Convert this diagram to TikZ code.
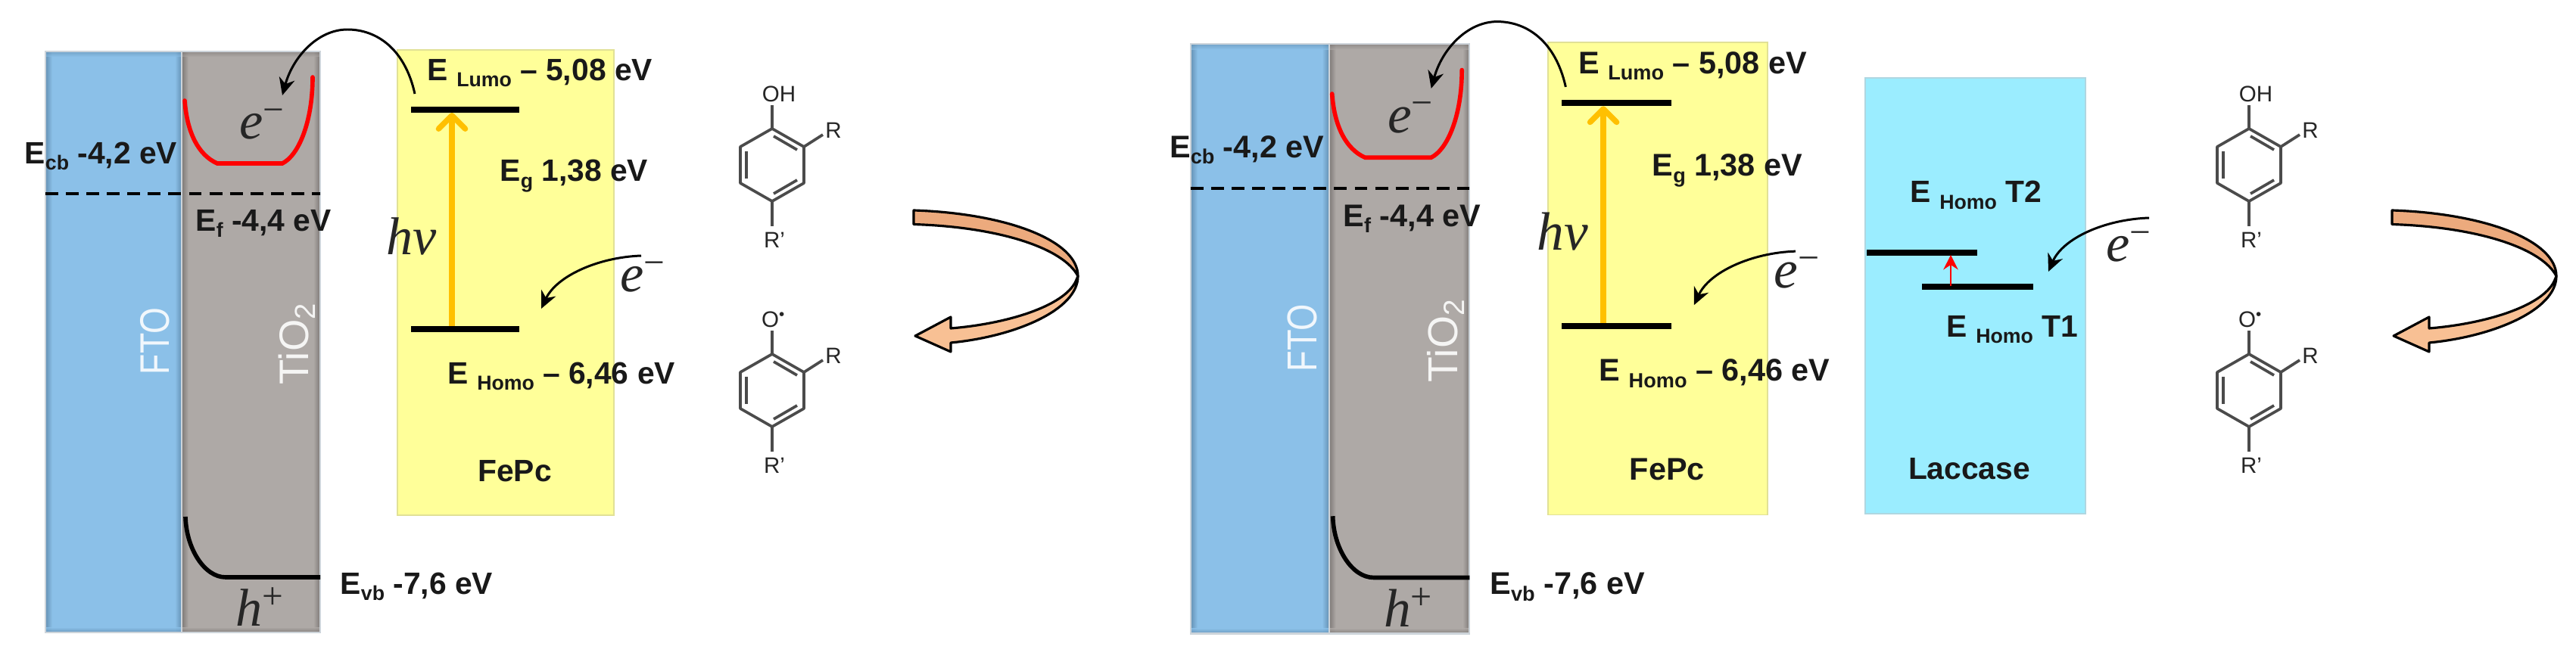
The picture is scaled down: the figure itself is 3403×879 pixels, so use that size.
\documentclass[tikz,border=0pt]{standalone}
\usepackage{graphicx}
\usepackage{fontspec}
\setmainfont{Liberation Sans}
\newfontfamily\sciserif{Liberation Serif}
\usetikzlibrary{arrows.meta}
\definecolor{ftoblue}{RGB}{139,192,232}
\definecolor{ftodark}{RGB}{100,145,180}
\definecolor{tiogray}{RGB}{174,169,166}
\definecolor{tiodark}{RGB}{125,120,118}
\definecolor{edgegray}{RGB}{205,212,218}
\definecolor{fepcyellow}{RGB}{255,255,153}
\definecolor{fepcedge}{RGB}{225,225,150}
\definecolor{laccblue}{RGB}{155,237,255}
\definecolor{laccedge}{RGB}{175,215,225}
\definecolor{hvorange}{RGB}{255,192,0}
\definecolor{ribbontop}{RGB}{236,170,125}
\definecolor{ribbonlow}{RGB}{248,192,148}
\definecolor{molink}{RGB}{75,75,75}
\newcommand{\lowtxt}[1]{\raisebox{-2.4pt}{\fontsize{7.6}{8}\selectfont #1}}
\newcommand{\supchg}[1]{\raisebox{6.5pt}{\fontsize{14}{14}\selectfont\upshape #1}}
\newcommand{\glowbox}[6]{%
  \fill[#5] (#1,#2) rectangle (#3,#4);
  \shade[left color=#6,right color=#5] (#1,#2) rectangle (#1+9,#4);
  \shade[left color=#5,right color=#6] (#3-9,#2) rectangle (#3,#4);
  \shade[top color=#6,bottom color=#5,opacity=.6] (#1,#2) rectangle (#3,#2+7);
  \shade[top color=#5,bottom color=#6,opacity=.8] (#1,#4-7) rectangle (#3,#4);
  \draw[edgegray,line width=.6pt] (#1,#2) rectangle (#3,#4);
}
\tikzset{
  x=0.01cm,y=-0.01cm,
  lab/.style={font=\bfseries\fontsize{11.6}{13}\selectfont,anchor=base west,inner sep=0pt,text=black!90},
  labc/.style={font=\bfseries\fontsize{11.6}{13}\selectfont,anchor=base,inner sep=0pt,text=black!90},
  mathlab/.style={font=\sciserif\itshape\fontsize{20}{22}\selectfont,inner sep=0pt,text=black!85},
  vert/.style={font=\fontsize{15.5}{17}\selectfont,rotate=90,inner sep=0pt},
  bar/.style={line width=2.3pt,black},
  band/.style={line width=1.6pt},
  ecurve/.style={line width=.85pt,black,-{Stealth[length=6.5pt,width=6pt]}},
  ribbon/.style={draw=black,line width=.9pt,line join=round},
  bond/.style={molink,line width=1.05pt},
  moltxt/.style={font=\fontsize{8.4}{9}\selectfont,text=black!85,inner sep=0pt},
  panel/.pic={
    \glowbox{60}{68}{240}{836}{ftoblue}{ftodark}
    \glowbox{240}{68}{423}{836}{tiogray}{tiodark}
    \fill[fepcyellow] (525,66) rectangle (811,681);
    \draw[fepcedge,line width=.4pt] (525,66) rectangle (811,681);
    \coordinate (-dl) at (60,256);
    \coordinate (-dr) at (423,256);
    \draw[black,line width=1pt,dash pattern=on 4.8pt off 2.9pt] (-dl) -- (-dr);
    \node[vert,text=white!88!ftoblue] (-fto) at (205,451) {\scalebox{.82}[1]{FTO}};
    \node[vert,text=white!88!tiogray] (-tio) at (392,454) {TiO\textsubscript{2}};
    \draw[band,red,line cap=round] (244,133) .. controls (247,175) and (262,205) .. (287,216) -- (373,216) .. controls (395,205) and (413,160) .. (413,102);
    \draw[band,black] (245,683) .. controls (246,725) and (270,763) .. (298,763) -- (423,763);
    \coordinate (-lumoL) at (543,145);
    \coordinate (-lumoR) at (686,145);
    \coordinate (-homoL) at (543,435);
    \coordinate (-homoR) at (686,435);
    \coordinate (-hvfoot) at (597,435);
    \coordinate (-hvhead) at (597,149);
    \draw[hvorange,line width=2.1pt,-{Straight Barb[length=5pt,width=10pt,round]}] (-hvfoot) -- (-hvhead);
    \draw[bar] (-lumoL) -- (-lumoR);
    \draw[bar] (-homoL) -- (-homoR);
    \coordinate (-e1s) at (548,124);
    \coordinate (-e1e) at (373,126);
    \draw[ecurve] (-e1s) .. controls (535,65) and (498,39) .. (459,39) .. controls (420,39) and (387,75) .. (-e1e);
    \coordinate (-e2s) at (847,338);
    \coordinate (-e2e) at (715,408);
    \draw[ecurve] (-e2s) .. controls (790,340) and (735,365) .. (-e2e);
    \node[mathlab] (-ecb) at (346,164) {e\supchg{−}};
    \node[mathlab] (-eh) at (849,366) {e\supchg{−}};
    \node[mathlab] (-hv) at (544,312) {hν};
    \node[mathlab] (-hp) at (343,802) {h\supchg{+}};
    \node[lab] (-lecb) at (32,216) {E\lowtxt{cb} -4,2 eV};
    \node[lab] (-lef) at (258,305.5) {E\lowtxt{f} -4,4 eV};
    \node[lab] (-leg) at (660,240) {E\lowtxt{g} 1,38 eV};
    \node[lab] (-llumo) at (564,106.5) {E \lowtxt{Lumo} -- 5,08 eV};
    \node[lab] (-lhomo) at (591,507) {E \lowtxt{Homo} -- 6,46 eV};
    \node[lab] (-levb) at (449,785) {E\lowtxt{vb} -7,6 eV};
    \node[labc] (-lfepc) at (680,636) {FePc};
  },
  ringmol/.pic={
    \draw[bond,line join=round] (0,-48) -- (42,-24) -- (42,24) -- (0,48) -- (-42,24) -- (-42,-24) -- cycle;
    \draw[bond] (-34,-18) -- (-34,18);
    \draw[bond] (2,-38) -- (33,-20);
    \draw[bond] (2,38) -- (33,20);
    \draw[bond] (42,-24) -- (67,-40);
    \draw[bond] (0,-48) -- (0,-79);
    \draw[bond] (0,48) -- (0,81);
    \node[moltxt] (-r) at (81,-46) {R};
    \node[moltxt] (-rp) at (3,99) {R'};
  },
  bigarrow/.pic={
    \draw[ribbon,fill=ribbonlow] (1424,365) .. controls (1424,410) and (1340,445) .. (1256,453) -- (1256,465) -- (1209,444) -- (1256,419) -- (1256,434) .. controls (1330,428) and (1405,405) .. (1421,372) -- cycle;
    \draw[ribbon,fill=ribbontop] (1207,278) .. controls (1330,282) and (1424,318) .. (1424,365) .. controls (1405,328) and (1320,300) .. (1207,296.5) -- cycle;
  }
}
\begin{document}
\begin{tikzpicture}
\useasboundingbox (0,0) rectangle (3403,879);
\fill[white] (0,0) rectangle (3403,879);
% left panel
\pic (pa) at (0,0) {panel};
% right panel
\begin{scope}[shift={(1512,-11)},scale=1.015,every node/.append style={transform shape}]
\pic (pb) at (0,0) {panel};
\end{scope}
% molecules
\pic (ma) at (1020,218) {ringmol};
\node[moltxt] (maoh) at (1029,124.5) {OH};
\pic (mb) at (1020,516) {ringmol};
\node[moltxt] (mbo) at (1022,422) {O\textsuperscript{•}};
\pic (mc) at (2971,218) {ringmol};
\node[moltxt] (mcoh) at (2980,124.5) {OH};
\pic (md) at (2971,516) {ringmol};
\node[moltxt] (mdo) at (2973,422) {O\textsuperscript{•}};
% big arrows
\pic (ba) at (0,0) {bigarrow};
\pic (bb) at (1953,0) {bigarrow};
% laccase
\fill[laccblue] (2464,103) rectangle (2755,679);
\draw[laccedge,line width=.4pt] (2464,103) rectangle (2755,679);
\coordinate (t2l) at (2466,334);
\coordinate (t2r) at (2612,334);
\coordinate (t1l) at (2539,379);
\coordinate (t1r) at (2686,379);
\draw[bar] (t2l) -- (t2r);
\draw[bar] (t1l) -- (t1r);
\coordinate (redfoot) at (2577,378);
\coordinate (redhead) at (2577,337);
\draw[red,line width=.8pt,-{Stealth[length=5.5pt,width=5.5pt]}] (redfoot) -- (redhead);
\node[lab] (lt2) at (2523,268) {E \lowtxt{Homo} T2};
\node[lab] (lt1) at (2571,445) {E \lowtxt{Homo} T1};
\node[labc] (llac) at (2601.5,633) {Laccase};
\coordinate (e3s) at (2839,288);
\coordinate (e3e) at (2706,359);
\draw[ecurve] (e3s) .. controls (2780,290) and (2725,315) .. (e3e);
\node[mathlab] (le3) at (2812,326) {e\supchg{−}};
\end{tikzpicture}
\end{document}
